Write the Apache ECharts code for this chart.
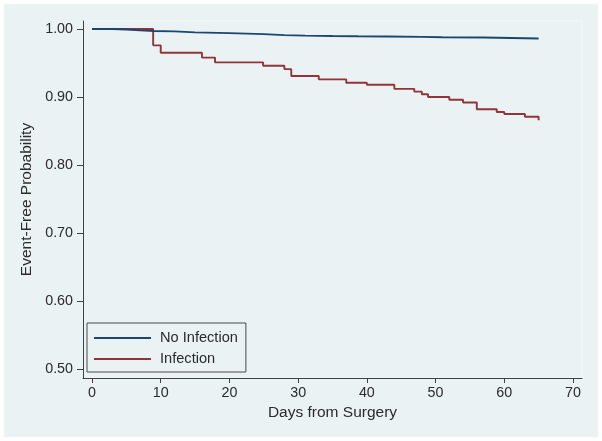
<!DOCTYPE html>
<html>
<head>
<meta charset="utf-8">
<script src="https://cdn.jsdelivr.net/npm/echarts@6/dist/echarts.min.js"></script>
<style>
html,body{margin:0;padding:0;background:#ffffff;}
#chart{width:602px;height:441px;}
</style>
</head>
<body>
<div id="chart"></div>
<script>
// Kaplan-Meier step data (day, event-free probability)
var noInfDays = [0, 3, 5, 7, 9, 12, 15, 20, 25, 28, 31, 35, 38.7, 43, 48, 51, 57, 65];
var noInfSurv = [1.000, 0.9993, 0.998, 0.997, 0.9965, 0.995, 0.994, 0.9925, 0.991, 0.9903, 0.9898, 0.9894, 0.989, 0.9885, 0.988, 0.9875, 0.986, 0.986];
var infDays = [0, 8.9, 10, 16, 17.9, 24.9, 28, 29, 33, 37, 40, 44, 46.9, 48, 48.9, 52, 54, 56, 58.9, 60, 63, 65];
var infSurv = [1.000, 0.976, 0.965, 0.958, 0.951, 0.946, 0.941, 0.931, 0.926, 0.921, 0.918, 0.912, 0.908, 0.904, 0.900, 0.896, 0.892, 0.882, 0.878, 0.875, 0.871, 0.866];
var xTicks = [0, 10, 20, 30, 40, 50, 60, 70];
var yTicks = [0.5, 0.6, 0.7, 0.8, 0.9, 1.0];
var seriesNames = ['No Infection', 'Infection'];

function pairs(xs, ys) { return xs.map(function (x, i) { return [x, ys[i]]; }); }

var chart = echarts.init(document.getElementById('chart'), null, {renderer: 'canvas'});
var font = 'Liberation Sans, Arial, Helvetica, sans-serif';
var txt = '#2b2b2b';
var axisCol = '#404040';

chart.setOption({
  backgroundColor: '#ffffff',
  animation: false,
  graphic: [{
    type: 'rect', z: -10, silent: true,
    shape: {x: 4, y: 4, width: 594, height: 433},
    style: {fill: '#eaf2f3', stroke: '#f4f8f8', lineWidth: 1}
  }],
  grid: {
    left: 83, right: 20, top: 21, bottom: 63,
    show: true, backgroundColor: 'transparent', borderColor: '#f4f8f8', borderWidth: 1
  },
  legend: {
    show: true, orient: 'vertical', left: 87, top: 323,
    padding: [7, 8, 5, 7], itemGap: 5,
    itemWidth: 57, itemHeight: 2,
    borderColor: '#4a4a4a', borderWidth: 1, backgroundColor: 'transparent',
    textStyle: {fontFamily: font, fontSize: 14.6, color: txt, lineHeight: 16, padding: [0, 0, 0, 4]},
    data: [{name: seriesNames[0], icon: 'rect'}, {name: seriesNames[1], icon: 'rect'}]
  },
  xAxis: {
    type: 'value', min: -1.31, max: 71.31,
    name: 'Days from Surgery', nameLocation: 'middle', nameGap: 25,
    nameTextStyle: {fontFamily: font, fontSize: 15.5, color: txt},
    axisLine: {show: true, onZero: false, lineStyle: {color: axisCol, width: 1}},
    axisTick: {show: true, length: 5, customValues: xTicks, lineStyle: {color: axisCol}},
    axisLabel: {customValues: xTicks, fontFamily: font, fontSize: 14.3, color: txt, margin: 8},
    splitLine: {show: false}
  },
  yAxis: {
    type: 'value', min: 0.4868, max: 1.0118,
    name: 'Event-Free Probability', nameLocation: 'middle', nameGap: 46, nameRotate: 90,
    nameTextStyle: {fontFamily: font, fontSize: 15.5, color: txt},
    axisLine: {show: true, onZero: false, lineStyle: {color: axisCol, width: 1}},
    axisTick: {show: true, length: 6, customValues: yTicks, lineStyle: {color: axisCol}},
    axisLabel: {customValues: yTicks, fontFamily: font, fontSize: 14.3, color: txt, margin: 10,
      formatter: function (v) { return v.toFixed(2); }},
    splitLine: {show: false}
  },
  series: [
    {
      name: seriesNames[0], type: 'line', step: 'end', showSymbol: false, symbol: 'none',
      data: pairs(noInfDays, noInfSurv), z: 3,
      lineStyle: {color: '#1a476f', width: 1.9}, itemStyle: {color: '#1a476f'}
    },
    {
      name: seriesNames[1], type: 'line', step: 'end', showSymbol: false, symbol: 'none',
      data: pairs(infDays, infSurv), z: 2,
      lineStyle: {color: '#90353b', width: 1.9}, itemStyle: {color: '#90353b'}
    }
  ]
});
</script>
</body>
</html>
